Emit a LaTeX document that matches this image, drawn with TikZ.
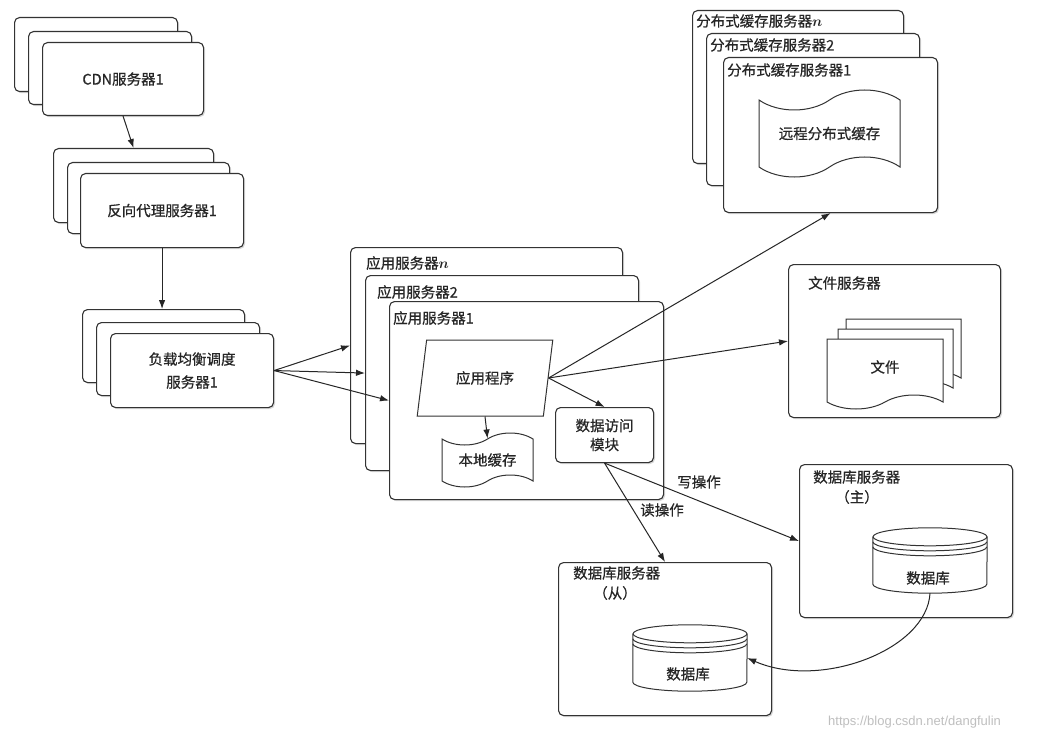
\documentclass[tikz,border=0pt]{standalone}
\usepackage{fontspec}
\setmainfont{Noto Sans CJK SC}[FakeBold=0.6]
\newfontfamily\wmfont{Liberation Sans}
\usepackage{bm}
\usetikzlibrary{shapes.geometric,shapes.symbols,shadows,arrows.meta,calc}
\begin{document}
\begin{tikzpicture}[x=1pt,y=-1pt,
  every node/.style={font=\fontsize{14.5pt}{16pt}\selectfont, text=black!85, inner sep=0pt},
  srv/.style={draw=black!80, line width=1.1pt, rounded corners=5pt, fill=white, anchor=north west,
    drop shadow={shadow xshift=1.5pt, shadow yshift=-1.5pt, opacity=0.3}},
  lbl/.style={anchor=west},
  conn/.style={draw=black!85, line width=1pt, -{Latex[length=9pt,width=6.5pt]}},
  shp/.style={draw=black!80, line width=1pt, fill=white},
  cyl/.style={draw=black!80, line width=1pt},
]
\fill[white] (0,0) rectangle (1047,741);
\useasboundingbox (0,0) rectangle (1047,741);

% CDN stack
\node[srv, minimum width=163pt, minimum height=74pt] (cdnA) at (14,17) {};
\node[srv, minimum width=163pt, minimum height=73pt] (cdnB) at (28,31) {};
\node[srv, minimum width=161pt, minimum height=73pt] (cdnC) at (42,42) {CDN服务器1};

% reverse proxy stack
\node[srv, minimum width=160pt, minimum height=74pt] (proxA) at (53,148) {};
\node[srv, minimum width=162pt, minimum height=71pt] (proxB) at (67,162) {};
\node[srv, minimum width=163pt, minimum height=74pt] (proxC) at (80,173) {反向代理服务器1};

% load balancer stack
\node[srv, minimum width=162pt, minimum height=73pt] (lbA) at (82,309) {};
\node[srv, minimum width=163pt, minimum height=73pt] (lbB) at (96,322) {};
\node[srv, minimum width=163pt, minimum height=74pt, align=center, font=\fontsize{14.5pt}{23pt}\selectfont] (lbC) at (110,333) {负载均衡调度\\服务器1};

% application servers
\node[srv, minimum width=272pt, minimum height=196pt] (appN) at (350,247) {};
\node[lbl] (appNt) at (366,263) {应用服务器$\bm{n}$};
\node[srv, minimum width=273pt, minimum height=195pt] (app2) at (365,275) {};
\node[lbl] (app2t) at (377,292) {应用服务器2};
\node[srv, minimum width=274pt, minimum height=198pt] (app1) at (389,301) {};
\node[lbl] (app1t) at (393,318) {应用服务器1};

\node[trapezium, shp, trapezium left angle=71, trapezium right angle=109, trapezium stretches=true,
  minimum width=136pt, minimum height=76pt] (prog) at (485,378) {应用程序};
\node[tape, shp, minimum width=91pt, minimum height=54pt, tape bend height=12pt] (cache) at (487.5,460) {本地缓存};
\node[srv, minimum width=98pt, minimum height=55pt, align=center, font=\fontsize{14.5pt}{19pt}\selectfont] (da) at (555,407) {数据访问\\模块};

% distributed cache servers
\node[srv, minimum width=211pt, minimum height=153pt] (dcN) at (692,10) {};
\node[lbl] (dcNt) at (696,21) {分布式缓存服务器$\bm{n}$};
\node[srv, minimum width=213pt, minimum height=152pt] (dc2) at (706,33) {};
\node[lbl] (dc2t) at (710,45) {分布式缓存服务器2};
\node[srv, minimum width=214pt, minimum height=155pt] (dc1) at (723,57) {};
\node[lbl] (dc1t) at (727,70) {分布式缓存服务器1};
\node[tape, shp, minimum width=141pt, minimum height=87pt, tape bend height=20pt] (remote) at (829.5,133.5) {远程分布式缓存};

% file server
\node[srv, minimum width=212pt, minimum height=153pt] (file) at (788,264) {};
\node[lbl] (filet) at (808,283) {文件服务器};
\node[tape, shp, tape bend top=none, minimum width=115pt, minimum height=66pt, tape bend height=14pt] (docA) at (903.5,345) {};
\node[tape, shp, tape bend top=none, minimum width=115pt, minimum height=66pt, tape bend height=14pt] (docB) at (895.5,355) {};
\node[tape, shp, tape bend top=none, minimum width=116pt, minimum height=70pt, tape bend height=14pt] (docC) at (885,367) {文件};

% database master
\node[srv, minimum width=213pt, minimum height=153pt] (dbm) at (799,464) {};
\node[lbl] (dbmt) at (813,477) {数据库服务器};
\node (dbmr) at (857,497) {（主）};
\node[minimum width=114pt, minimum height=65pt] (cylM) at (930,560.5) {};
\draw[cyl, fill=white] ($(cylM.north west)+(0,9)$) -- ($(cylM.south west)+(0,-9)$)
  arc[start angle=180, end angle=360, x radius=57pt, y radius=9pt] -- ($(cylM.north east)+(0,9)$);
\draw[cyl] ($(cylM.north)+(0,9)$) ellipse[x radius=57pt, y radius=9pt];
\draw[cyl] ($(cylM.north west)+(0,14)$) arc[start angle=180, end angle=360, x radius=57pt, y radius=9pt];
\draw[cyl] ($(cylM.north west)+(0,19)$) arc[start angle=180, end angle=360, x radius=57pt, y radius=9pt];
\node (cylMt) at (928,578) {数据库};

% database slave
\node[srv, minimum width=213pt, minimum height=153pt] (dbs) at (558,562) {};
\node[lbl] (dbst) at (573,573) {数据库服务器};
\node (dbsr) at (615,593) {（从）};
\node[minimum width=114pt, minimum height=66pt] (cylS) at (690,658) {};
\draw[cyl, fill=white] ($(cylS.north west)+(0,9)$) -- ($(cylS.south west)+(0,-9)$)
  arc[start angle=180, end angle=360, x radius=57pt, y radius=9pt] -- ($(cylS.north east)+(0,9)$);
\draw[cyl] ($(cylS.north)+(0,9)$) ellipse[x radius=57pt, y radius=9pt];
\draw[cyl] ($(cylS.north west)+(0,14)$) arc[start angle=180, end angle=360, x radius=57pt, y radius=9pt];
\draw[cyl] ($(cylS.north west)+(0,19)$) arc[start angle=180, end angle=360, x radius=57pt, y radius=9pt];
\node (cylSt) at (688,674) {数据库};

% connectors
\draw[conn] (cdnC.south) -- (proxA.north);
\draw[conn] (proxC.south) -- (proxC.south |- lbA.north);
\draw[conn] (lbC.east) -- (appN.west);
\draw[conn] (lbC.east) -- (app2.west);
\draw[conn] (lbC.east) -- (app1.west);
\draw[conn] (prog.east) -- (dc1.south);
\draw[conn] (prog.east) -- (file.west);
\draw[conn] (prog.east) -- (da.north);
\draw[conn] (prog.south) -- (cache.north);
\draw[conn] (da.south) -- (dbm.west);
\draw[conn] (da.south) -- (dbs.north);
\draw[conn] (cylM.south) .. controls (927,650) and (820,690) .. (cylS.east);
\node (wr) at (699,482) {写操作};
\node (rd) at (662,510) {读操作};

\node[font=\wmfont\fontsize{13pt}{15pt}\selectfont, text=black!25, anchor=west] (wm) at (828,722) {https://blog.csdn.net/dangfulin};
\end{tikzpicture}
\end{document}
